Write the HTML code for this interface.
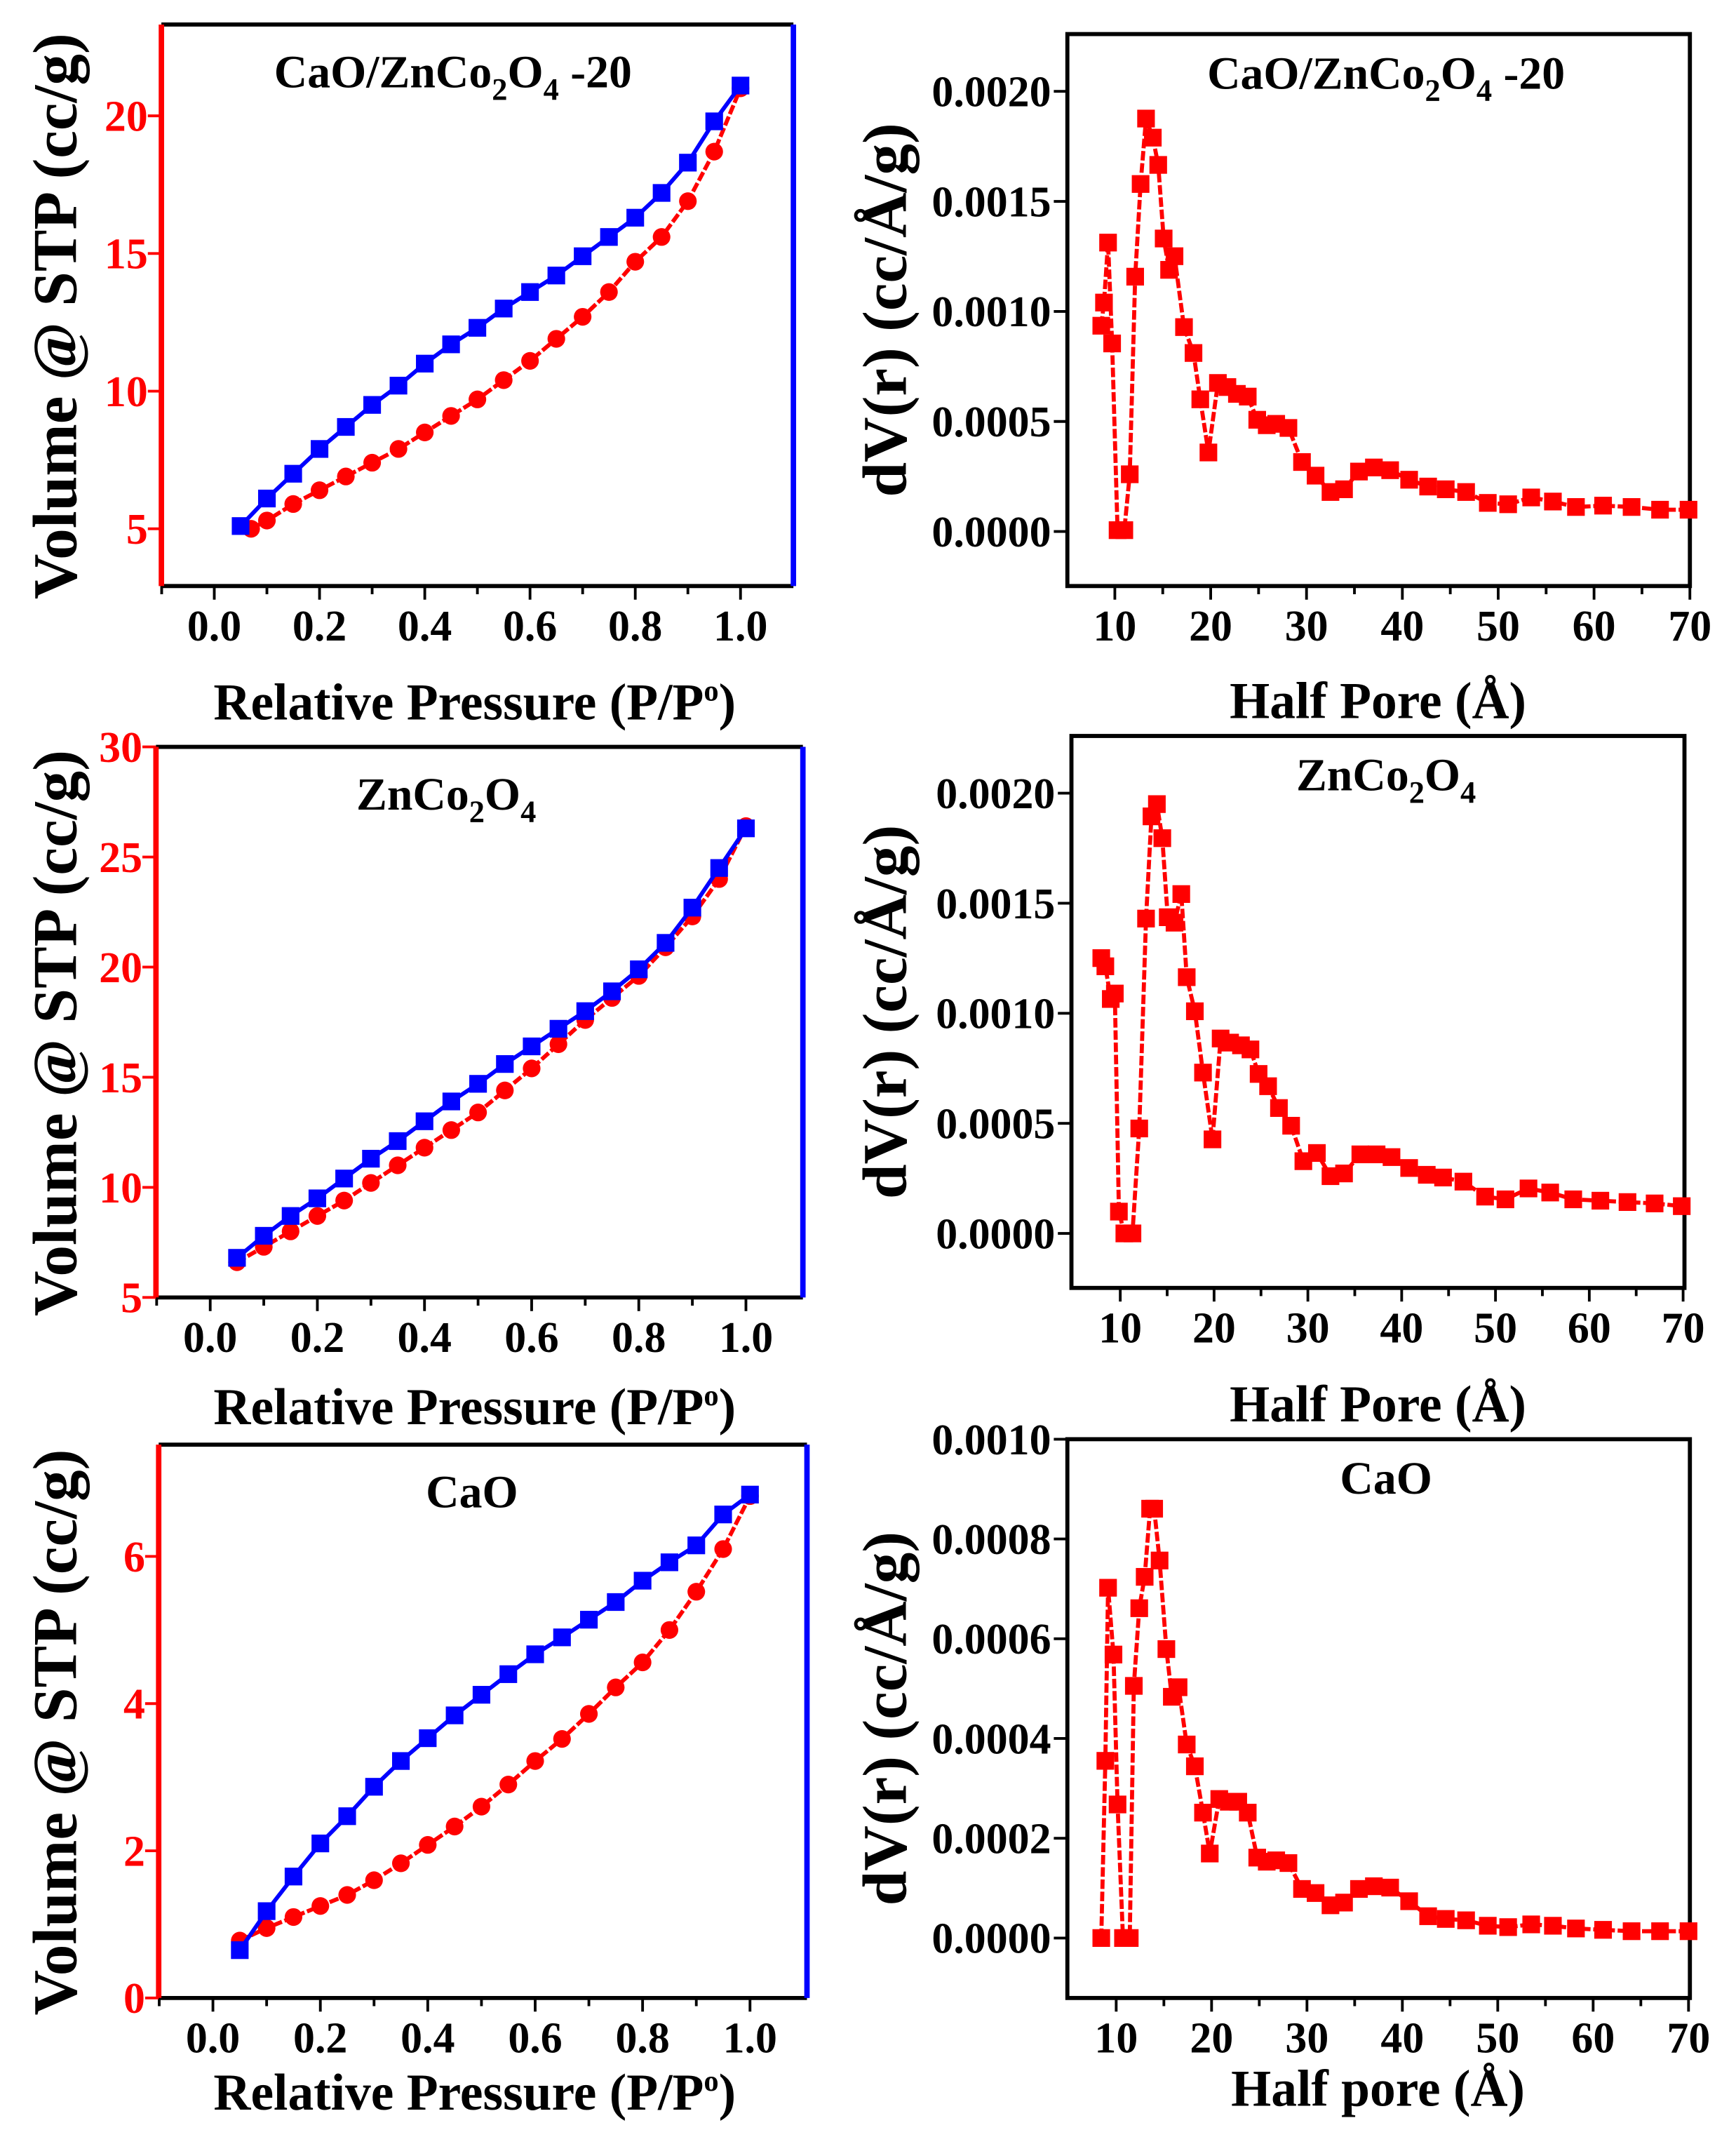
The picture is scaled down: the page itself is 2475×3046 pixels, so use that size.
<!DOCTYPE html>
<html><head><meta charset="utf-8">
<style>
html,body{margin:0;padding:0;background:#fff;}
svg{display:block;}
text{font-family:"Liberation Serif",serif;font-weight:bold;}
</style></head>
<body>
<svg id="s" width="2475" height="3046" viewBox="0 0 1280 1568" preserveAspectRatio="none" xmlns="http://www.w3.org/2000/svg"></svg>
<script>
const S=document.getElementById('s');let h='';
function L(x1,y1,x2,y2,c,w,d){h+=`<line x1="${x1}" y1="${y1}" x2="${x2}" y2="${y2}" stroke="${c}" stroke-width="${w}" ${d?'stroke-dasharray="'+d+'"':''}/>`;}
function T(x,y,t,sz,fill,anchor,extra){h+=`<text x="${x}" y="${y}" font-size="${sz}" fill="${fill||'#000'}" text-anchor="${anchor||'middle'}" ${extra||''}>${t}</text>`;}
function poly(pts,c,dash){h+=`<polyline points="${pts.map(p=>p.join(',')).join(' ')}" fill="none" stroke="${c}" stroke-width="3" ${dash?'stroke-dasharray="7,2"':''}/>`;}
function sq(pts,c,s){pts.forEach(p=>h+=`<rect x="${p[0]-s}" y="${p[1]-s}" width="${2*s}" height="${2*s}" fill="${c}"/>`);}
function ci(pts,c,r){pts.forEach(p=>h+=`<circle cx="${p[0]}" cy="${p[1]}" r="${r}" fill="${c}"/>`);}
function left(f){
 const {x0,x1,y0,y1,px0,px1,yv,yp,ticks,title,tx,blue,red,xty}=f;
 const X=v=>px0+(px1-px0)*v, Y=v=>yp[0]+(yp[1]-yp[0])*(v-yv[0])/(yv[1]-yv[0]);
 L(x0,y0,x1,y0,'#000',3);L(x0,y1,x1,y1,'#000',3);
 L(x0,y0,x0,y1,'#f00',4);L(x1,y0,x1,y1,'#00f',4);
 for(let i=-1;i<=10;i++){const v=i/10;const x=X(v);if(x<x0||x>x1)continue;L(x,y1,x,y1+(i%2==0?10:6),'#000',2);
  if(i%2==0&&i>=0)T(x,y1+40,v.toFixed(1),32);}
 ticks.forEach(v=>{L(x0,Y(v),x0-10,Y(v),'#f00',2);T(x0-10,Y(v)+11,v,32,'#f00','end');});
 T(tx,y0+46,title,34);
 const b=blue.map(p=>[X(p[0]),Y(p[1])]),r=red.map(p=>[X(p[0]),Y(p[1])]);
 poly(r,'#f00',true);ci(r,'#f00',6.5);poly(b,'#00f');sq(b,'#00f',6.5);
 T(350,xty,'Relative Pressure (P/P<tspan dy="-14" font-size="22">o</tspan><tspan dy="14">)</tspan>',38);
 h+=`<text transform="translate(56,${(y0+y1)/2+8}) rotate(-90)" font-size="46" text-anchor="middle">Volume @ STP (cc/g)</text>`;
}
const P=[.05,.1,.15,.2,.25,.3,.35,.4,.45,.5,.55,.6,.65,.7,.75,.8,.85,.9,.95,1];
const z=(xs,ys)=>xs.map((x,i)=>[x,ys[i]]);
left({x0:119,x1:585,y0:18,y1:430,px0:158,px1:546,yv:[5,20],yp:[388,85],ticks:[5,10,15,20],tx:334,
 title:'CaO/ZnCo<tspan dy="9" font-size="23">2</tspan><tspan dy="-9">O</tspan><tspan dy="9" font-size="23">4</tspan><tspan dy="-9"> -20</tspan>',
 blue:z(P,[5.1,6.1,7.0,7.9,8.7,9.5,10.2,11.0,11.7,12.3,13.0,13.6,14.2,14.9,15.6,16.3,17.2,18.3,19.8,21.1]),
 red:z([.07,.1,.15,.2,.25,.3,.35,.4,.45,.5,.55,.6,.65,.7,.75,.8,.85,.9,.95,1],[5.0,5.3,5.9,6.4,6.9,7.4,7.9,8.5,9.1,9.7,10.4,11.1,11.9,12.7,13.6,14.7,15.6,16.9,18.7,21.0]),xty:528});
left({x0:115,x1:592,y0:548,y1:952,px0:155,px1:550,yv:[5,30],yp:[952,548],ticks:[5,10,15,20,25,30],tx:329,
 title:'ZnCo<tspan dy="9" font-size="23">2</tspan><tspan dy="-9">O</tspan><tspan dy="9" font-size="23">4</tspan>',
 blue:z(P,[6.8,7.8,8.7,9.5,10.4,11.3,12.1,13.0,13.9,14.7,15.6,16.4,17.2,18.0,18.9,19.9,21.1,22.7,24.5,26.3]),
 red:z(P,[6.6,7.3,8.0,8.7,9.4,10.2,11.0,11.8,12.6,13.4,14.4,15.4,16.5,17.6,18.6,19.6,20.9,22.3,24.0,26.4]),xty:1045});
left({x0:117,x1:595,y0:1060,y1:1466,px0:157,px1:553,yv:[0,6],yp:[1466,1142],ticks:[0,2,4,6],tx:348,
 title:'CaO',
 blue:z(P,[0.65,1.18,1.65,2.1,2.47,2.87,3.22,3.53,3.84,4.12,4.4,4.67,4.9,5.14,5.38,5.67,5.92,6.15,6.57,6.84]),
 red:z(P,[0.78,0.95,1.1,1.25,1.4,1.6,1.83,2.08,2.33,2.6,2.9,3.22,3.52,3.86,4.22,4.56,5.0,5.52,6.1,6.82]),xty:1548});
function right(f){
 const {x0,x1,y0,y1,x10,x70,ticks,title,pts,xt,xty}=f;
 h+=`<rect x="${x0}" y="${y0}" width="${x1-x0}" height="${y1-y0}" fill="none" stroke="#000" stroke-width="3"/>`;
 for(let v=10;v<=70;v+=5){const x=x10+(x70-x10)*(v-10)/60;L(x,y1,x,y1+(v%10==0?10:6),'#000',2);if(v%10==0)T(x,y1+40,v,32);}
 ticks.forEach(t=>{L(x0,t[1],x0-10,t[1],'#000',2);T(x0-12,t[1]+11,t[0],32,'#000','end');});
 T(1022,y0+40,title,34);
 poly(pts,'#f00',true);sq(pts,'#f00',6.5);
 T(1016,xty,xt,38);
 h+=`<text transform="translate(668,${(y0+y1)/2}) rotate(-90)" font-size="46" text-anchor="middle">dV(r) (cc/Å/g)</text>`;
}
const tk=(y0,step,labs)=>labs.map((l,i)=>[l,y0-step*i]);
right({x0:787,x1:1246,y0:25,y1:430,x10:822,x70:1246,ticks:tk(390,80.75,['0.0000','0.0005','0.0010','0.0015','0.0020']),
 title:'CaO/ZnCo<tspan dy="9" font-size="23">2</tspan><tspan dy="-9">O</tspan><tspan dy="9" font-size="23">4</tspan><tspan dy="-9"> -20</tspan>',xt:'Half Pore (Å)',xty:527,
 pts:[[812,239],[814,222],[817,178],[820,252],[824,389],[829,389],[833,348],[837,203],[841,135],[845,87],[850,101],[854,121],[858,175],[862,198],[866,188],[873,240],[880,259],[885,293],[891,332],[898,281],[905,284],[912,289],[920,291],[927,308],[934,312],[941,311],[950,314],[960,339],[970,349],[981,361],[991,359],[1002,346],[1013,343],[1025,345],[1039,352],[1053,357],[1066,359],[1081,361],[1097,369],[1112,370],[1129,365],[1145,368],[1162,372],[1182,371],[1203,372],[1224,374],[1245,374]]});
right({x0:790,x1:1242,y0:540,y1:945,x10:826,x70:1241,ticks:tk(905,80.75,['0.0000','0.0005','0.0010','0.0015','0.0020']),
 title:'ZnCo<tspan dy="9" font-size="23">2</tspan><tspan dy="-9">O</tspan><tspan dy="9" font-size="23">4</tspan>',xt:'Half Pore (Å)',xty:1043,
 pts:[[812,703],[815,709],[819,733],[822,729],[825,889],[829,905],[835,905],[840,828],[845,674],[849,599],[853,590],[857,615],[861,673],[866,677],[871,656],[875,717],[881,742],[887,787],[894,836],[900,762],[907,765],[915,767],[922,770],[928,788],[935,797],[943,813],[952,826],[961,852],[971,846],[981,863],[991,861],[1003,847],[1015,847],[1026,849],[1039,857],[1052,862],[1064,864],[1079,867],[1095,878],[1110,880],[1127,872],[1143,875],[1160,880],[1180,881],[1200,882],[1220,883],[1240,885]]});
right({x0:787,x1:1246,y0:1056,y1:1466,x10:823,x70:1245,ticks:tk(1422,73.2,['0.0000','0.0002','0.0004','0.0006','0.0008','0.0010']),
 title:'CaO',xt:'Half pore (Å)',xty:1545,
 pts:[[812,1422],[815,1292],[817,1165],[821,1214],[824,1324],[828,1422],[833,1422],[836,1237],[840,1180],[844,1157],[848,1107],[851,1107],[855,1145],[860,1210],[864,1245],[869,1238],[875,1280],[881,1296],[887,1330],[892,1360],[899,1320],[906,1322],[913,1322],[920,1330],[927,1363],[934,1366],[941,1365],[950,1367],[960,1386],[970,1389],[981,1398],[991,1396],[1002,1386],[1013,1384],[1025,1385],[1039,1395],[1053,1406],[1066,1408],[1081,1409],[1097,1413],[1112,1414],[1129,1412],[1145,1413],[1162,1415],[1182,1416],[1203,1417],[1224,1417],[1245,1417]]});
S.innerHTML=h;
</script>
</body></html>
